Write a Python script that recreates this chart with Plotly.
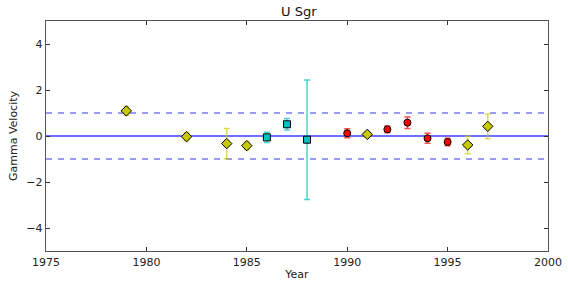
import plotly.graph_objects as go

# Yellow diamonds
yel_year = [1979, 1982, 1984, 1985, 1991, 1996, 1997]
yel_val = [1.09, -0.03, -0.33, -0.42, 0.07, -0.39, 0.42]
yel_err = [0.19, 0.18, 0.66, 0.18, 0.12, 0.38, 0.54]

# Cyan squares
cy_year = [1986, 1987, 1988]
cy_val = [-0.06, 0.51, -0.16]
cy_err = [0.22, 0.25, 2.6]

# Red circles
red_year = [1990, 1992, 1993, 1994, 1995]
red_val = [0.12, 0.29, 0.58, -0.10, -0.26]
red_err = [0.20, 0.15, 0.25, 0.22, 0.16]

ref_lines = [0, 1, -1]

fig = go.Figure()

def add_series(x, y, e, fill, ecol, symbol, size):
    fig.add_trace(go.Scatter(
        x=x, y=y, mode="markers",
        marker=dict(symbol=symbol, size=size, color=fill,
                    line=dict(color="black", width=1)),
        error_y=dict(type="data", array=e, visible=True, color=ecol,
                     thickness=1.5, width=3),
        showlegend=False, hoverinfo="skip"))

# reference lines
fig.add_shape(type="line", x0=1975, x1=2000, y0=ref_lines[0], y1=ref_lines[0],
              line=dict(color="rgba(0,0,255,0.75)", width=1.3), layer="below")
for v in ref_lines[1:]:
    fig.add_shape(type="line", x0=1975, x1=2000, y0=v, y1=v,
                  line=dict(color="rgba(30,30,240,0.6)", width=1.3, dash="6px,6px"),
                  layer="below")

add_series(yel_year, yel_val, yel_err, "#c8c800", "rgba(200,200,0,0.65)", "diamond", 8)
add_series(cy_year, cy_val, cy_err, "#00c0c0", "rgba(0,190,190,0.7)", "square", 7)
add_series(red_year, red_val, red_err, "#ff0000", "rgba(255,0,0,0.7)", "circle", 7)

axis_common = dict(showline=True, linecolor="#555", linewidth=1.3, mirror="ticks",
                   ticks="inside", ticklen=4, tickcolor="#333", showgrid=False,
                   zeroline=False, automargin=False, tickfont=dict(size=11, color="#222"))

fig.update_layout(
    width=568, height=287,
    margin=dict(l=46, r=20, t=21, b=36, autoexpand=False),
    paper_bgcolor="white", plot_bgcolor="white",
    font=dict(family="DejaVu Sans", size=11, color="#222"),
    title=dict(text="U Sgr", x=0.526, xanchor="center", y=0.96, yanchor="middle",
               automargin=False, font=dict(size=13, color="#111")),
    xaxis=dict(range=[1975, 2000], tickvals=[1975, 1980, 1985, 1990, 1995, 2000],
               title=dict(text="Year", standoff=2, font=dict(size=11)), **axis_common),
    yaxis=dict(range=[-5, 5], tickvals=[-4, -2, 0, 2, 4],
               ticktext=["\u22124", "\u22122", "0", "2", "4"],
               title=dict(text="Gamma Velocity", standoff=6, font=dict(size=11)), **axis_common),
)

fig.write_html("out.html", config={"displayModeBar": False, "staticPlot": True},
               post_script="document.body.style.margin='0';")
